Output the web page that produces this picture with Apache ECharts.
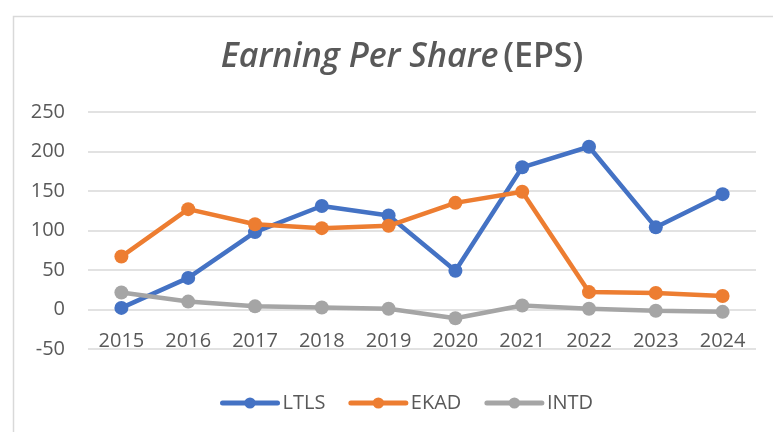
<!DOCTYPE html>
<html>
<head>
<meta charset="utf-8">
<script src="https://cdn.jsdelivr.net/npm/echarts@6/dist/echarts.min.js"></script>
<style>
  html, body { margin: 0; padding: 0; background: #fff; }
  #main { width: 773px; height: 432px; }
</style>
</head>
<body>
<div id="main"></div>
<script>
// years on the x axis
const years = ['2015', '2016', '2017', '2018', '2019', '2020', '2021', '2022', '2023', '2024']
// EPS per company
const ltls = [2, 40, 98, 131, 119, 49, 180, 206, 104, 146]
const ekad = [67, 127, 108, 103, 106, 135, 149, 22, 21, 17]
const intd = [21.5, 10, 4, 2.5, 1, -11, 5, 1, -1.5, -3]

const textColor = '#595959'
const font = 'Open Sans'

const chart = echarts.init(document.getElementById('main'))

function lineSeries (name, data, color) {
  return {
    name: name,
    type: 'line',
    data: data,
    symbol: 'circle',
    symbolSize: 14,
    lineStyle: { width: 4.5, color: color },
    itemStyle: { color: color },
    emphasis: { disabled: true }
  }
}

chart.setOption({
  animation: false,
  textStyle: { fontFamily: font },
  graphic: [
    {
      type: 'rect',
      left: 11,
      top: 14,
      shape: { width: 800, height: 450 },
      style: { fill: 'none', stroke: '#d9d9d9', lineWidth: 1.5 },
      silent: true
    }
  ],
  title: {
    text: '{i|Earning Per Share} {n|(EPS)}',
    left: 397,
    textAlign: 'center',
    top: 35,
    textStyle: {
      fontWeight: 600,
      rich: {
        i: { fontSize: 34, fontStyle: 'italic', fontWeight: 600, color: textColor, fontFamily: font },
        n: { fontSize: 34, fontWeight: 600, color: textColor, fontFamily: font }
      }
    }
  },
  legend: {
    left: 215,
    top: 388,
    itemWidth: 55,
    itemHeight: 14,
    itemGap: 23,
    lineStyle: { width: 5, cap: 'round' },
    textStyle: { fontSize: 20, color: textColor, fontFamily: font },
    data: ['LTLS', 'EKAD', 'INTD']
  },
  grid: {
    left: 88,
    right: 17,
    top: 112,
    bottom: 83,
    containLabel: false
  },
  xAxis: {
    type: 'category',
    data: years,
    boundaryGap: true,
    offset: -39.5,
    axisLine: { show: false },
    axisTick: { show: false },
    axisLabel: { fontSize: 20, color: textColor, margin: 22 }
  },
  yAxis: {
    type: 'value',
    min: -50,
    max: 250,
    interval: 50,
    axisLine: { show: false },
    axisTick: { show: false },
    axisLabel: { fontSize: 20, color: textColor, margin: 23 },
    splitLine: { lineStyle: { color: '#d9d9d9', width: 1.5 } }
  },
  series: [
    lineSeries('LTLS', ltls, '#4472c4'),
    lineSeries('EKAD', ekad, '#ed7d31'),
    lineSeries('INTD', intd, '#a5a5a5')
  ]
})
</script>
</body>
</html>
